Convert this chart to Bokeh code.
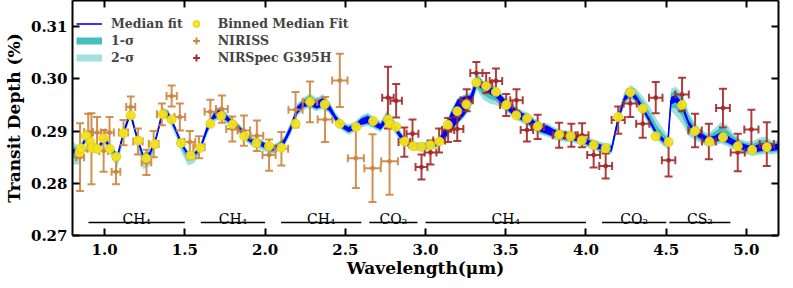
import numpy as np
from bokeh.plotting import figure
from bokeh.models import (ColumnDataSource, Range1d, LinearAxis, Legend, LegendItem,
                          FixedTicker, PrintfTickFormatter)
from bokeh.embed import file_html
from bokeh.resources import INLINE
from bokeh.core.properties import value

# ---------------- data ----------------
# model grid (micron) and median fit (units of 1e-4 %)
model_wl = [0.80, 0.84, 0.88, 0.92, 0.96, 1.00, 1.04, 1.08, 1.12, 1.16, 1.20, 1.24, 1.28, 1.32, 1.36,
            1.40, 1.44, 1.48, 1.52, 1.56, 1.60, 1.64, 1.68, 1.72, 1.76, 1.80, 1.84, 1.88, 1.92, 1.96,
            2.00, 2.04, 2.08, 2.12, 2.16, 2.20, 2.24, 2.28, 2.32, 2.36, 2.40, 2.44, 2.48, 2.52, 2.56,
            2.60, 2.64, 2.68, 2.72, 2.76, 2.80, 2.84, 2.88, 2.92, 2.96, 3.00, 3.04, 3.08, 3.12, 3.16,
            3.20, 3.24, 3.28, 3.32, 3.36, 3.40, 3.44, 3.48, 3.52, 3.56, 3.60, 3.64, 3.68, 3.72, 3.76,
            3.80, 3.84, 3.88, 3.92, 3.96, 4.00, 4.04, 4.08, 4.12, 4.16, 4.20, 4.24, 4.28, 4.32, 4.36,
            4.40, 4.44, 4.48, 4.51, 4.53, 4.56, 4.60, 4.64, 4.68, 4.72, 4.76, 4.80, 4.84, 4.88, 4.92,
            4.96, 5.00, 5.04, 5.08, 5.12, 5.16, 5.20]
model_med = [2862, 2858, 2885, 2870, 2868, 2885, 2866, 2852, 2898, 2935, 2890, 2852, 2855, 2885, 2935,
             2930, 2905, 2875, 2855, 2855, 2870, 2905, 2928, 2935, 2925, 2913, 2905, 2890, 2880, 2878,
             2872, 2866, 2870, 2880, 2905, 2940, 2952, 2957, 2950, 2955, 2945, 2925, 2910, 2903, 2908,
             2918, 2922, 2915, 2908, 2925, 2912, 2892, 2878, 2872, 2870, 2871, 2873, 2878, 2895, 2920,
             2938, 2948, 2958, 2995, 2985, 2978, 2972, 2958, 2945, 2935, 2928, 2922, 2912, 2905, 2902,
             2896, 2892, 2890, 2889, 2884, 2880, 2875, 2870, 2867, 2866, 2922, 2962, 2974, 2960, 2940,
             2918, 2895, 2883, 2876, 2958, 2962, 2948, 2915, 2898, 2890, 2882, 2885, 2890, 2885, 2878,
             2872, 2868, 2865, 2868, 2870, 2868, 2870]
# half-spread of the noisy median line (1e-4 %)
model_noise = [4, 4, 3, 4, 3, 4, 3, 3, 4, 5, 3, 3, 4, 3, 5,
               4, 3, 3, 3, 3, 4, 6, 5, 7, 5, 5, 4, 5, 4, 5,
               4, 4, 4, 5, 6, 7, 6, 8, 7, 8, 6, 5, 4, 5, 5,
               6, 7, 6, 5, 7, 6, 5, 4, 4, 4, 4, 4, 5, 10, 16,
               22, 18, 10, 7, 7, 7, 8, 7, 7, 8, 7, 8, 7, 7, 8,
               7, 6, 6, 6, 5, 5, 5, 5, 5, 5, 5, 5, 5, 5, 4,
               4, 4, 4, 4, 7, 7, 6, 5, 5, 6, 6, 6, 7, 7, 6,
               6, 6, 6, 7, 7, 6, 6]
# extra extent of the 1-sigma band below / above the noisy median (1e-4 %)
sig1_lo = [10, 8, 3, 3, 3, 2, 5, 10, 2, 2, 3, 11, 9, 3, 2,
           3, 4, 6, 9, 6, 2, 2, 2, 2, 2, 2, 2, 2, 2, 3,
           3, 3, 2, 2, 2, 2, 2, 2, 2, 2, 2, 2, 2, 2, 2,
           2, 2, 2, 2, 2, 2, 2, 2, 2, 2, 2, 2, 2, 2, 2,
           2, 2, 3, 5, 9, 9, 7, 4, 2, 2, 2, 2, 2, 2, 2,
           2, 2, 2, 2, 2, 2, 2, 2, 2, 2, 3, 3, 3, 3, 3,
           3, 3, 3, 3, 6, 12, 14, 10, 6, 3, 3, 3, 3, 3, 3,
           3, 3, 3, 3, 3, 3, 3]
sig1_hi = [6, 4, 2, 2, 2, 2, 2, 2, 2, 3, 2, 2, 2, 2, 3,
           3, 2, 2, 2, 2, 2, 2, 2, 3, 2, 2, 2, 2, 2, 2,
           2, 2, 2, 2, 2, 3, 3, 4, 3, 4, 3, 2, 2, 2, 2,
           3, 3, 3, 3, 4, 3, 2, 2, 2, 2, 2, 2, 2, 2, 2,
           2, 2, 3, 6, 2, 2, 2, 2, 2, 2, 2, 2, 2, 2, 2,
           2, 2, 2, 2, 2, 2, 2, 2, 2, 2, 4, 4, 4, 7, 10,
           12, 12, 9, 6, 8, 8, 10, 10, 6, 3, 3, 7, 10, 10, 6,
           3, 3, 4, 6, 6, 3, 3]
# extra extent of the 2-sigma band below / above the noisy median (1e-4 %)
sig2_lo = [22, 18, 6, 6, 6, 4, 11, 20, 4, 4, 6, 22, 18, 5, 4,
           5, 9, 14, 18, 13, 5, 5, 5, 5, 5, 5, 5, 5, 6, 7,
           7, 7, 5, 5, 5, 5, 5, 5, 5, 5, 5, 5, 5, 5, 5,
           5, 5, 5, 5, 5, 5, 5, 4, 4, 4, 4, 4, 4, 4, 4,
           4, 4, 6, 10, 18, 18, 14, 9, 5, 5, 5, 5, 5, 5, 5,
           5, 5, 5, 5, 5, 5, 5, 5, 5, 5, 7, 7, 7, 7, 7,
           7, 7, 7, 7, 12, 26, 28, 19, 11, 7, 7, 7, 7, 7, 7,
           7, 7, 7, 7, 7, 7, 7]
sig2_hi = [14, 9, 4, 4, 4, 4, 4, 4, 4, 6, 4, 4, 4, 4, 6,
           6, 4, 4, 4, 4, 4, 5, 5, 6, 5, 5, 4, 4, 4, 4,
           4, 4, 4, 5, 6, 6, 6, 8, 6, 8, 6, 5, 5, 5, 5,
           6, 6, 6, 6, 8, 6, 5, 4, 4, 4, 4, 4, 4, 4, 4,
           4, 4, 6, 12, 5, 5, 5, 5, 5, 5, 5, 5, 5, 5, 5,
           5, 5, 5, 5, 5, 5, 5, 5, 5, 5, 8, 9, 9, 14, 20,
           24, 24, 18, 12, 16, 16, 18, 17, 11, 7, 7, 14, 20, 20, 11,
           7, 7, 10, 12, 12, 7, 7]

# binned median fit
bin_wl = [0.843, 0.853, 0.884, 0.912, 0.922, 0.955, 0.992, 1.033, 1.073, 1.118, 1.163, 1.210, 1.259,
          1.312, 1.363, 1.418, 1.476, 1.537, 1.596, 1.659, 1.727, 1.798, 1.870, 1.947, 2.025, 2.102,
          2.190, 2.280, 2.372, 2.466, 2.568, 2.674, 2.766, 2.776, 2.817, 2.868, 2.923, 2.974, 3.031,
          3.086, 3.139, 3.198, 3.255, 3.317, 3.378, 3.439, 3.504, 3.566, 3.633, 3.699, 3.833, 3.904,
          3.974, 4.048, 4.123, 4.201, 4.276, 4.354, 4.435, 4.515, 4.599, 4.680, 4.770, 4.854, 4.946,
          5.036, 5.127]
bin_depth = [0.2859, 0.2867, 0.2891, 0.2879, 0.2867, 0.2866, 0.2886, 0.2866, 0.2851, 0.2896, 0.2930,
             0.2882, 0.2848, 0.2875, 0.2932, 0.2922, 0.2877, 0.2853, 0.2868, 0.2914, 0.2929, 0.2913,
             0.2890, 0.2877, 0.2871, 0.2868, 0.2914, 0.2956, 0.2951, 0.2914, 0.2908, 0.2919, 0.2922,
             0.2914, 0.2908, 0.2880, 0.2871, 0.2870, 0.2873, 0.2880, 0.2912, 0.2938, 0.2951, 0.2993,
             0.2986, 0.2975, 0.2950, 0.2930, 0.2924, 0.2909, 0.2893, 0.2890, 0.2882, 0.2873, 0.2867,
             0.2927, 0.2974, 0.2943, 0.2890, 0.2879, 0.2950, 0.2900, 0.2880, 0.2888, 0.2871, 0.2864,
             0.2869]

# NIRISS
niriss_wl = [0.847, 0.898, 0.918, 0.953, 0.994, 1.031, 1.071, 1.118, 1.163, 1.208, 1.261, 1.306, 1.357,
             1.418, 1.469, 1.531, 1.588, 1.659, 1.731, 1.796, 1.868, 1.949, 2.025, 2.102, 2.190, 2.280,
             2.374, 2.466, 2.566, 2.670, 2.776]
niriss_depth = [0.2850, 0.2898, 0.2866, 0.2897, 0.2862, 0.2897, 0.2822, 0.2897, 0.2946, 0.2880, 0.2840,
                0.2875, 0.2932, 0.2967, 0.2927, 0.2879, 0.2869, 0.2937, 0.2942, 0.2904, 0.2901, 0.2891,
                0.2854, 0.2866, 0.2941, 0.2956, 0.2922, 0.2997, 0.2848, 0.2829, 0.2842]
niriss_err = [0.0065, 0.0035, 0.0068, 0.0030, 0.0040, 0.0030, 0.0024, 0.0024, 0.0020, 0.0025, 0.0024,
              0.0025, 0.0021, 0.0020, 0.0026, 0.0021, 0.0021, 0.0023, 0.0026, 0.0024, 0.0029, 0.0029,
              0.0030, 0.0032, 0.0034, 0.0039, 0.0043, 0.0051, 0.0057, 0.0065, 0.0064]
niriss_xerr = [0.025, 0.025, 0.025, 0.025, 0.027, 0.027, 0.027, 0.028, 0.028, 0.029, 0.030, 0.030, 0.031,
               0.032, 0.033, 0.034, 0.035, 0.036, 0.037, 0.038, 0.039, 0.040, 0.041, 0.042, 0.044, 0.045,
               0.046, 0.048, 0.050, 0.051, 0.052]

# NIRSpec G395H
nrs_wl = [2.766, 2.817, 2.868, 2.919, 2.975, 3.031, 3.085, 3.141, 3.198, 3.257, 3.317, 3.378, 3.439,
          3.503, 3.567, 3.632, 3.699, 3.833, 3.909, 3.976, 4.048, 4.123, 4.201, 4.276, 4.354, 4.435,
          4.515, 4.599, 4.680, 4.766, 4.854, 4.946, 5.031, 5.127]
nrs_depth = [0.2964, 0.2958, 0.2879, 0.2895, 0.2831, 0.2859, 0.2882, 0.2902, 0.2904, 0.2959, 0.3011,
             0.2992, 0.2996, 0.2950, 0.2959, 0.2902, 0.2908, 0.2892, 0.2892, 0.2892, 0.2854, 0.2833,
             0.2921, 0.2953, 0.2914, 0.2964, 0.2844, 0.2970, 0.2901, 0.2880, 0.2944, 0.2859, 0.2903,
             0.2875]
nrs_err = [0.0059, 0.0032, 0.0028, 0.0027, 0.0024, 0.0023, 0.0023, 0.0023, 0.0023, 0.0021, 0.0021,
           0.0019, 0.0024, 0.0021, 0.0021, 0.0022, 0.0023, 0.0024, 0.0022, 0.0023, 0.0024, 0.0024,
           0.0026, 0.0026, 0.0027, 0.0030, 0.0031, 0.0032, 0.0032, 0.0034, 0.0037, 0.0036, 0.0038,
           0.0042]
nrs_xerr = [0.036, 0.036, 0.036, 0.037, 0.037, 0.037, 0.037, 0.038, 0.038, 0.038, 0.038, 0.038, 0.039,
            0.039, 0.039, 0.039, 0.039, 0.040, 0.040, 0.040, 0.040, 0.040, 0.041, 0.041, 0.041, 0.042,
            0.042, 0.042, 0.042, 0.043, 0.043, 0.044, 0.044, 0.044]

# molecule annotations
mol_start = [0.90, 1.60, 2.10, 2.65, 3.00, 4.10, 4.52]
mol_end = [1.50, 2.00, 2.60, 2.95, 4.00, 4.50, 4.90]
mol_label = ["CH\u2084", "CH\u2084", "CH\u2084", "CO\u2082", "CH\u2084", "CO\u2082", "CS\u2082"]
mol_level = 0.2725

x_ticks = [1.0, 1.5, 2.0, 2.5, 3.0, 3.5, 4.0, 4.5, 5.0]
y_ticks = [0.27, 0.28, 0.29, 0.30, 0.31]

# ---------------- derived geometry ----------------
U = 1e-4
wl = np.array(model_wl)
med = np.array(model_med) * U
nz = np.array(model_noise) * U
s1lo = med - nz - np.array(sig1_lo) * U
s1hi = med + nz + np.array(sig1_hi) * U
s2lo = med - nz - np.array(sig2_lo) * U
s2hi = med + nz + np.array(sig2_hi) * U

SERIF = "DejaVu Serif"
C_S1, C_S2, C_BLUE = "#43bfbf", "#a3dfdf", "#0000ff"
C_NIRISS, C_NRS = "#cd853f", "#a52a2a"

p = figure(width=785, height=280, output_backend="svg", toolbar_location=None,
           x_range=Range1d(0.8, 5.2), y_range=Range1d(0.27, 0.315),
           min_border_left=59, min_border_right=7, min_border_top=0, min_border_bottom=41)
p.grid.visible = False
p.outline_line_color = None
p.background_fill_color = "white"

# bands
p.varea(x=wl, y1=s2lo, y2=s2hi, fill_color=C_S2, fill_alpha=1.0)
p.varea(x=wl, y1=s1lo, y2=s1hi, fill_color=C_S1, fill_alpha=1.0)
p.varea(x=wl, y1=med - nz, y2=med + nz, fill_color=C_BLUE)
r_med = p.line(wl, med, line_color=C_BLUE, line_width=1.6)


def errorbars(x, y, xe, ye, color, alpha):
    x = np.array(x); y = np.array(y); xe = np.array(xe); ye = np.array(ye)
    src = ColumnDataSource(dict(x=x, y=y, x0=x - xe, x1=x + xe, y0=y - ye, y1=y + ye))
    kw = dict(line_color=color, line_alpha=alpha, line_width=2)
    p.segment(x0="x", y0="y0", x1="x", y1="y1", source=src, **kw)
    p.segment(x0="x0", y0="y", x1="x1", y1="y", source=src, **kw)
    p.scatter(x="x", y="y0", marker="dash", size=8, source=src, **kw)
    p.scatter(x="x", y="y1", marker="dash", size=8, source=src, **kw)
    p.scatter(x="x0", y="y", marker="dash", size=8, angle=np.pi / 2, source=src, **kw)
    p.scatter(x="x1", y="y", marker="dash", size=8, angle=np.pi / 2, source=src, **kw)
    p.scatter(x="x", y="y", marker="circle", size=4, source=src, fill_color=color,
              line_color=color, fill_alpha=alpha, line_alpha=alpha)


errorbars(niriss_wl, niriss_depth, niriss_xerr, niriss_err, C_NIRISS, 0.9)
errorbars(nrs_wl, nrs_depth, nrs_xerr, nrs_err, C_NRS, 0.9)

r_bin = p.scatter(bin_wl, bin_depth, marker="circle", size=9, fill_color="#f4e51c",
                  line_color="#e2d20c", line_width=1, fill_alpha=0.95)

# legend-only glyphs (no visible data)
nan = [np.nan]
r_s1_leg = p.line(x=nan, y=nan, line_color=C_S1, line_width=7)
r_s2_leg = p.line(x=nan, y=nan, line_color=C_S2, line_width=7)
r_niriss_leg = p.scatter(x=nan, y=nan, marker="cross", size=14, line_width=2, line_color=C_NIRISS)
r_nrs_leg = p.scatter(x=nan, y=nan, marker="cross", size=14, line_width=2, line_color=C_NRS)

# molecule bars and labels
mol_src = ColumnDataSource(dict(x0=mol_start, x1=mol_end, y=[mol_level] * len(mol_start),
                                xm=[(a + b) / 2 for a, b in zip(mol_start, mol_end)], t=mol_label))
p.segment(x0="x0", y0="y", x1="x1", y1="y", source=mol_src, line_color="black", line_width=1.5)
p.text(x="xm", y="y", text="t", source=mol_src, text_font=value(SERIF), text_font_size="14px",
       text_align="center", text_baseline="alphabetic", y_offset=-3, text_color="black")


def style_axis(ax, labels=True):
    ax.axis_line_width = 2
    ax.axis_line_color = "black"
    ax.major_tick_in = 7
    ax.major_tick_out = 0
    ax.major_tick_line_width = 2
    ax.minor_tick_line_color = None
    if labels:
        ax.major_label_text_font = SERIF
        ax.major_label_text_font_style = "bold"
        ax.major_label_text_font_size = "15px"
        ax.major_label_text_color = "black"
        ax.axis_label_text_font = SERIF
        ax.axis_label_text_font_style = "bold"
        ax.axis_label_text_font_size = "17px"
        ax.axis_label_text_color = "black"
    else:
        ax.major_label_text_font_size = "0px"
        ax.major_label_standoff = 0


p.xaxis.ticker = FixedTicker(ticks=x_ticks)
p.xaxis.formatter = PrintfTickFormatter(format="%.1f")
p.yaxis.ticker = FixedTicker(ticks=y_ticks)
p.yaxis.formatter = PrintfTickFormatter(format="%.2f")
p.xaxis.axis_label = "Wavelength(\u03bcm)"
p.yaxis.axis_label = "Transit Depth (%)"
style_axis(p.xaxis[0])
style_axis(p.yaxis[0])
p.xaxis.major_label_standoff = 8
p.xaxis.axis_label_standoff = 0
p.yaxis.major_label_standoff = 5
p.yaxis.axis_label_standoff = 4

top = LinearAxis(ticker=FixedTicker(ticks=x_ticks))
right = LinearAxis(ticker=FixedTicker(ticks=y_ticks))
style_axis(top, labels=False)
style_axis(right, labels=False)
p.add_layout(top, "above")
p.add_layout(right, "right")

legend = Legend(items=[
    LegendItem(label="Median fit", renderers=[r_med]),
    LegendItem(label="1-\u03c3", renderers=[r_s1_leg]),
    LegendItem(label="2-\u03c3", renderers=[r_s2_leg]),
    LegendItem(label="Binned Median Fit", renderers=[r_bin]),
    LegendItem(label="NIRISS", renderers=[r_niriss_leg]),
    LegendItem(label="NIRSpec G395H", renderers=[r_nrs_leg]),
], location=(4, 169), nrows=3, orientation="vertical")
legend.border_line_alpha = 0
legend.background_fill_alpha = 0
legend.label_text_font = SERIF
legend.label_text_font_style = "bold"
legend.label_text_font_size = "12.5px"
legend.glyph_width = 26
legend.glyph_height = 17
legend.label_standoff = 9
legend.spacing = 0
legend.margin = 0
legend.padding = 0
legend.label_height = 13
p.add_layout(legend)

open("out.html", "w").write(file_html(p, INLINE))
